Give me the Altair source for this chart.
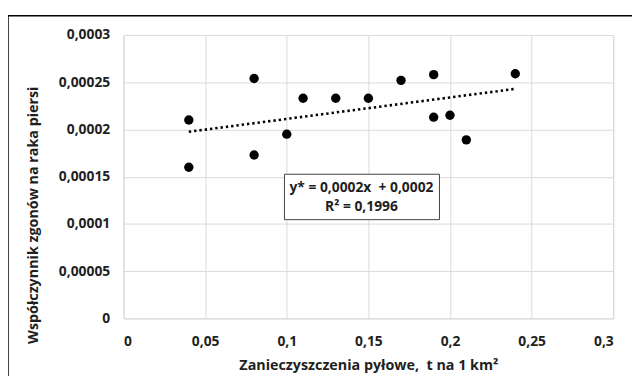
import altair as alt
import pandas as pd

# Data
dust = [0.04, 0.04, 0.08, 0.08, 0.10, 0.11, 0.13, 0.15, 0.17, 0.19, 0.19, 0.20, 0.21, 0.24]
mortality = [0.000210, 0.000160, 0.000254, 0.000173, 0.000195, 0.000233, 0.000233,
             0.000233, 0.000252, 0.000258, 0.000213, 0.000215, 0.000189, 0.000259]
x_ticks = [0, 0.05, 0.1, 0.15, 0.2, 0.25, 0.3]
y_ticks = [0, 0.00005, 0.0001, 0.00015, 0.0002, 0.00025, 0.0003]
equation_lines = ["y* = 0,0002x\u00a0 + 0,0002", "R² = 0,1996"]

df = pd.DataFrame({"x": dust, "y": mortality})

FONT = "Open Sans"
TXT = "#1f1f1f"

x_scale = alt.Scale(domain=[0, 0.3], nice=False, zero=True)
y_scale = alt.Scale(domain=[0, 0.0003], nice=False, zero=True)

x_enc = alt.X("x:Q", scale=x_scale,
              axis=alt.Axis(values=x_ticks, title="Zanieczyszczenia pyłowe,\u00a0 t na 1 km²",
                            labelExpr="replace(format(datum.value, ''), '.', ',')",
                            titleBaseline="middle", titleY=48))
y_enc = alt.Y("y:Q", scale=y_scale,
              axis=alt.Axis(values=y_ticks, title="Współczynnik zgonów na raka piersi",
                            labelExpr="replace(format(datum.value, ''), '.', ',')",
                            titleBaseline="middle", titleX=-91, titleY=182))

points = alt.Chart(df).mark_circle(size=90, color="black", opacity=1).encode(x=x_enc, y=y_enc)

trend = alt.Chart(df).transform_regression("x", "y").mark_line(
    color="black", strokeWidth=2.6, strokeDash=[2.4, 3], strokeCap="butt"
).encode(x="x:Q", y="y:Q")

box = alt.Chart(pd.DataFrame({"a": [0]})).mark_rect(
    fill="white", stroke="#404040", strokeWidth=1
).encode(x=alt.value(163), x2=alt.value(320), y=alt.value(141), y2=alt.value(187))

eq_df = pd.DataFrame({"label": ["\n".join(equation_lines)]})
eq_text = alt.Chart(eq_df).mark_text(
    font=FONT, fontSize=14, fontWeight="bold", color=TXT, baseline="middle", align="center",
    lineBreak="\n", lineHeight=19,
).encode(text="label:N", x=alt.value(241), y=alt.value(155.5))

frame = alt.Chart(pd.DataFrame({"a": [0]})).mark_rect(
    fill=None, stroke="black", strokeWidth=1.5
).encode(x=alt.value(-117), x2=alt.value(2000), y=alt.value(-19.5), y2=alt.value(2000))

chart = alt.layer(frame, trend, points, box, eq_text).properties(
    width=496, height=287,
    autosize=alt.AutoSizeParams(type="none"),
    padding={"left": 117, "top": 25, "right": 19, "bottom": 56},
).configure_view(stroke="#d9d9d9", strokeWidth=1).configure_axis(
    grid=True, gridColor="#d9d9d9", gridWidth=1, domain=False, ticks=False,
    labelFont=FONT, labelFontSize=14, labelFontWeight="bold", labelColor=TXT,
    titleFont=FONT, titleFontSize=14.5, titleFontWeight="bold", titleColor=TXT,
).configure_axisX(labelPadding=16).configure_axisY(labelPadding=14)

chart.save("out.html", embed_options={"renderer": "svg", "actions": False})
